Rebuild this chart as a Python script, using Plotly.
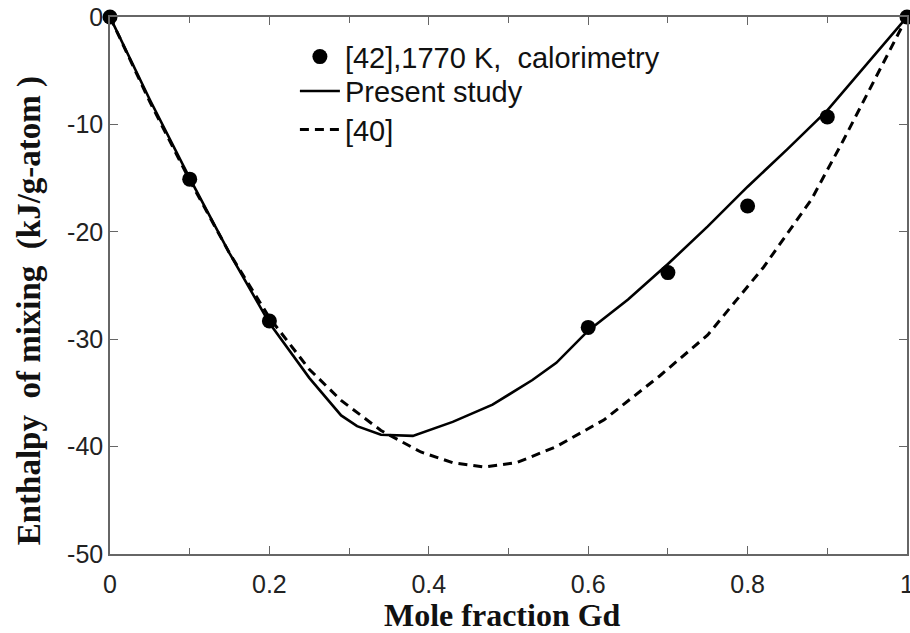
import plotly.graph_objects as go

# measured points, [42] 1770 K calorimetry
exp_x = [0.0, 0.1, 0.2, 0.6, 0.7, 0.8, 0.9, 1.0]
exp_y = [0.0, -15.1, -28.3, -28.9, -23.8, -17.6, -9.3, 0.0]

# present study (calculated)
calc_x = [0.0, 0.05, 0.1, 0.15, 0.2, 0.25, 0.29, 0.31, 0.34, 0.38, 0.43, 0.48,
          0.53, 0.56, 0.6, 0.65, 0.7, 0.75, 0.8, 0.85, 0.9, 0.95, 1.0]
calc_y = [0.0, -7.7, -15.0, -22.0, -28.5, -33.6, -37.1, -38.1, -38.9, -39.0, -37.7, -36.1,
          -33.8, -32.2, -29.2, -26.3, -23.0, -19.5, -15.8, -12.3, -8.7, -4.4, 0.0]

# reference [40]
ref_x = [0.0, 0.05, 0.1, 0.15, 0.2, 0.25, 0.29, 0.34, 0.39, 0.43, 0.47, 0.51,
         0.56, 0.62, 0.69, 0.75, 0.82, 0.88, 0.92, 0.96, 0.98, 1.0]
ref_y = [0.0, -7.9, -15.2, -22.0, -28.0, -32.8, -35.7, -38.5, -40.5, -41.5, -41.9, -41.5,
         -40.0, -37.5, -33.4, -29.6, -23.3, -17.0, -11.5, -5.8, -2.8, 0.0]

x_ticks = [0, 0.2, 0.4, 0.6, 0.8, 1.0]
x_labels = ["0", "0.2", "0.4", "0.6", "0.8", "1"]
y_ticks = [0, -10, -20, -30, -40, -50]
y_labels = ["0", "-10", "-20", "-30", "-40", "-50"]

fig = go.Figure()
fig.add_trace(go.Scatter(x=exp_x, y=exp_y, mode="markers", name="[42],1770 K,\u00a0 calorimetry",
                         marker=dict(color="black", size=15), cliponaxis=False, legend="legend",
                         showlegend=True))
fig.add_trace(go.Scatter(x=calc_x, y=calc_y, mode="lines", name="Present study",
                         line=dict(color="black", width=2.6), cliponaxis=False, legend="legend2",
                         showlegend=True))
fig.add_trace(go.Scatter(x=ref_x, y=ref_y, mode="lines", name="[40]",
                         line=dict(color="black", width=3, dash="9px,6px"), cliponaxis=False,
                         legend="legend3", showlegend=True))

axis_common = dict(showline=True, linecolor="#666", linewidth=1.5, mirror="ticks",
                   ticks="inside", ticklen=8, tickwidth=1.3, tickcolor="#666",
                   showgrid=False, zeroline=False, automargin=False, ticklabeloverflow="allow",
                   tickfont=dict(family="Liberation Sans, Arial", size=25, color="#222"))

title_font = dict(family="Liberation Serif, Times New Roman", size=32, color="#111", weight="bold")

fig.update_xaxes(range=[0, 1], tickvals=x_ticks, ticktext=x_labels,
                 minor=dict(tickvals=[0.1, 0.3, 0.5, 0.7, 0.9], ticks="inside", ticklen=6,
                            tickcolor="#666", tickwidth=1.3),
                 ticklabelstandoff=7,
                 **axis_common)
fig.update_yaxes(range=[-50, 0], tickvals=y_ticks, ticktext=y_labels,
                 ticklabelstandoff=0,
                 **axis_common)

# axis titles placed as annotations to match the original offsets
fig.add_annotation(text="Mole fraction Gd", xref="paper", yref="paper", x=0.492, y=-0.1136,
                   xanchor="center", yanchor="middle", showarrow=False, font=title_font)
fig.add_annotation(text="Enthalpy\u00a0 of mixing\u00a0 (kJ/g-atom\u00a0)", xref="paper", yref="paper",
                   x=-0.1016, y=0.452, xanchor="center", yanchor="middle", textangle=-90,
                   showarrow=False, font=dict(title_font, size=33))

leg = dict(xanchor="left", yanchor="middle", bgcolor="rgba(0,0,0,0)", itemwidth=40,
           font=dict(family="Liberation Sans, Arial", size=29, color="#111"))
fig.update_layout(
    width=910, height=633,
    margin=dict(l=110, r=3, t=17, b=79),
    plot_bgcolor="white", paper_bgcolor="white",
    showlegend=True,
    legend=dict(x=0.232, y=0.926, **leg),
    legend2=dict(x=0.232, y=0.862, **leg),
    legend3=dict(x=0.232, y=0.790, **leg),
)

fig.write_html("out.html", config={"displayModeBar": False},
               post_script="document.body.style.margin='0';")
